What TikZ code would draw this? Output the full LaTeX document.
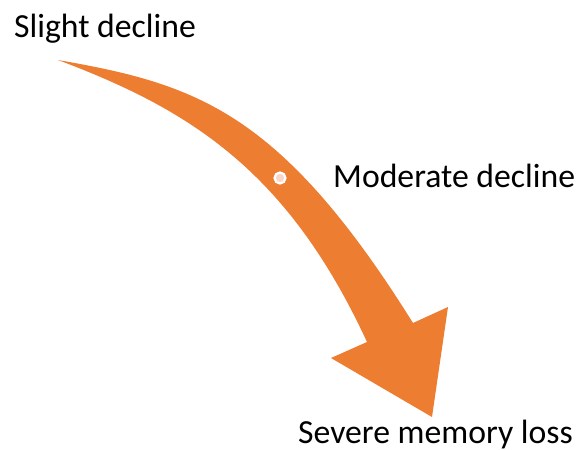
\documentclass[tikz,border=0pt]{standalone}
\usepackage{fontspec}
\setmainfont{Carlito}
\definecolor{arroworange}{HTML}{ED7D31}
\definecolor{dotpink}{HTML}{F8D6CA}
\tikzset{
  lbl/.style={anchor=base west, inner sep=0pt, font=\fontsize{33.7pt}{40pt}\selectfont, text=black},
  dotmark/.style={circle, fill=dotpink, draw=white, line width=2.2pt, minimum size=11pt, inner sep=0pt}
}
\begin{document}
\begin{tikzpicture}[x=1pt,y=-1pt]
\useasboundingbox (0,0) rectangle (584,450);
\fill[arroworange] (58,60) .. controls (195,84) and (280,110) .. (413,323)
  -- (448,307) -- (432,417) -- (331,358) -- (367,342)
  .. controls (287,169) and (188,109) .. (58,60) -- cycle;
\node[dotmark] (dot) at (280,178) {};
\node[lbl] (slight) at (14,37) {Slight decline};
\node[lbl] (moderate) at (333,187) {Moderate decline};
\node[lbl] (severe) at (298,443) {Severe memory loss};
\end{tikzpicture}
\end{document}
